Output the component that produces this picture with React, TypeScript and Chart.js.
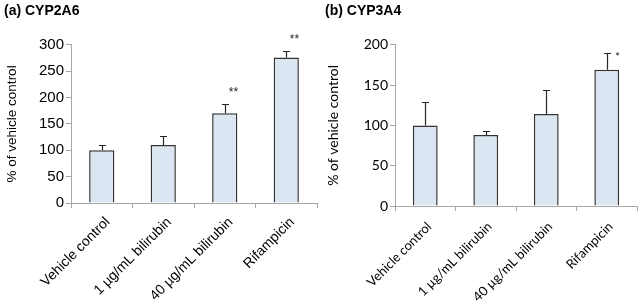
import React, { useEffect, useRef } from "react";
import { Chart, registerables } from "chart.js";

Chart.register(...registerables);

const categories = ["Vehicle control", "1 µg/mL bilirubin", "40 µg/mL bilirubin", "Rifampicin"];

const cyp2a6Values = [100, 110, 170, 276];
const cyp2a6Errors = [10, 17, 17, 13];
const cyp2a6Stars = ["", "", "**", "**"];

const cyp3a4Values = [100, 88, 114, 169];
const cyp3a4Errors = [29, 5, 30, 21];
const cyp3a4Stars = ["", "", "", "*"];

const cyp2a6Max = 300;
const cyp3a4Max = 200;
const tickStep = 50;

type PanelCfg = {
  title: string;
  values: number[];
  errors: number[];
  stars: string[];
  max: number;
  family: string;
  tickSize: number;
  xTickSize: number;
  xTickPad: number;
  xLabelOffset: number;
  yTitleSize: number;
  padLeft: number;
  yWidth: number;
  xHeight: number;
  starDx: number;
  starDy: number;
};

function makeErrorPlugin(cfg: PanelCfg) {
  return {
    id: "errbars",
    afterDatasetsDraw(chart: any) {
      const ctx = chart.ctx;
      const meta = chart.getDatasetMeta(0);
      const ys = chart.scales.y;
      ctx.save();
      ctx.strokeStyle = "#262626";
      ctx.lineWidth = 1.2;
      meta.data.forEach((bar: any, i: number) => {
        const x = Math.round(bar.x) + 0.5;
        const yb = ys.getPixelForValue(cfg.values[i]);
        const yt = Math.round(ys.getPixelForValue(cfg.values[i] + cfg.errors[i])) + 0.5;
        ctx.beginPath();
        ctx.moveTo(x, yb);
        ctx.lineTo(x, yt);
        ctx.moveTo(x - 3.5, yt);
        ctx.lineTo(x + 3.5, yt);
        ctx.stroke();
        if (cfg.stars[i]) {
          ctx.fillStyle = "#262626";
          ctx.font = `12px ${cfg.family}`;
          ctx.textAlign = "center";
          ctx.textBaseline = "middle";
          ctx.fillText(cfg.stars[i], x + cfg.starDx, yt + cfg.starDy);
        }
      });
      ctx.restore();
    },
  };
}

function Panel({ cfg, left }: { cfg: PanelCfg; left: number }) {
  const ref = useRef<HTMLCanvasElement | null>(null);
  useEffect(() => {
    if (!ref.current) return;
    const axisColor = "#a6a6a6";
    const chart = new Chart(ref.current, {
      type: "bar",
      data: {
        labels: categories,
        datasets: [
          {
            data: cfg.values,
            backgroundColor: "#dce6f2",
            borderColor: "#333333",
            borderWidth: 1.5,
            barPercentage: 0.41,
            categoryPercentage: 1,
          },
        ],
      },
      options: {
        responsive: false,
        animation: false,
        layout: { padding: { left: cfg.padLeft, right: 3, top: 0, bottom: 0 } },
        plugins: {
          legend: { display: false },
          tooltip: { enabled: false },
          title: {
            display: true,
            text: cfg.title,
            align: "start",
            color: "#000",
            font: { family: "Liberation Sans", size: 14, weight: "bold" },
            padding: { top: 3, bottom: 25 },
          },
        },
        scales: {
          x: {
            grid: { drawOnChartArea: false, offset: true, tickLength: 5, color: axisColor },
            border: { color: axisColor },
            ticks: {
              minRotation: 45,
              maxRotation: 45,
              color: "#000",
              padding: cfg.xTickPad,
              labelOffset: cfg.xLabelOffset,
              font: { family: cfg.family, size: cfg.xTickSize },
            },
            afterFit: (s: any) => {
              s.height = cfg.xHeight;
            },
          },
          y: {
            min: 0,
            max: cfg.max,
            grid: { drawOnChartArea: false, tickLength: 5, color: axisColor },
            border: { color: axisColor },
            ticks: {
              stepSize: tickStep,
              color: "#000",
              padding: 2,
              font: { family: cfg.family, size: cfg.tickSize },
            },
            title: {
              display: true,
              text: "% of vehicle control",
              color: "#000",
              padding: 0,
              font: { family: cfg.family, size: cfg.yTitleSize },
            },
            afterFit: (s: any) => {
              s.width = cfg.yWidth;
            },
          },
        },
      } as any,
      plugins: [makeErrorPlugin(cfg)],
    });
    return () => chart.destroy();
  }, [cfg]);
  return (
    <canvas
      ref={ref}
      width={320}
      height={304}
      style={{ position: "absolute", left, top: 0, width: 320, height: 304, display: "block" }}
    />
  );
}

const leftCfg: PanelCfg = {
  title: "(a) CYP2A6",
  values: cyp2a6Values,
  errors: cyp2a6Errors,
  stars: cyp2a6Stars,
  max: cyp2a6Max,
  family: "Liberation Sans",
  tickSize: 15,
  xTickSize: 14,
  xTickPad: 6,
  xLabelOffset: 6,
  yTitleSize: 13.5,
  padLeft: 4,
  yWidth: 67,
  xHeight: 101,
  starDx: 8,
  starDy: -12,
};

const rightCfg: PanelCfg = {
  title: "(b) CYP3A4",
  values: cyp3a4Values,
  errors: cyp3a4Errors,
  stars: cyp3a4Stars,
  max: cyp3a4Max,
  family: "Lato",
  tickSize: 14,
  xTickSize: 13,
  xTickPad: 8,
  xLabelOffset: 4,
  yTitleSize: 14,
  padLeft: 5,
  yWidth: 70,
  xHeight: 98,
  starDx: 10,
  starDy: 4,
};

export default function App() {
  return (
    <div style={{ position: "absolute", left: 0, top: 0, width: 640, height: 304, background: "#fff" }}>
      <Panel cfg={leftCfg} left={0} />
      <Panel cfg={rightCfg} left={320} />
    </div>
  );
}
